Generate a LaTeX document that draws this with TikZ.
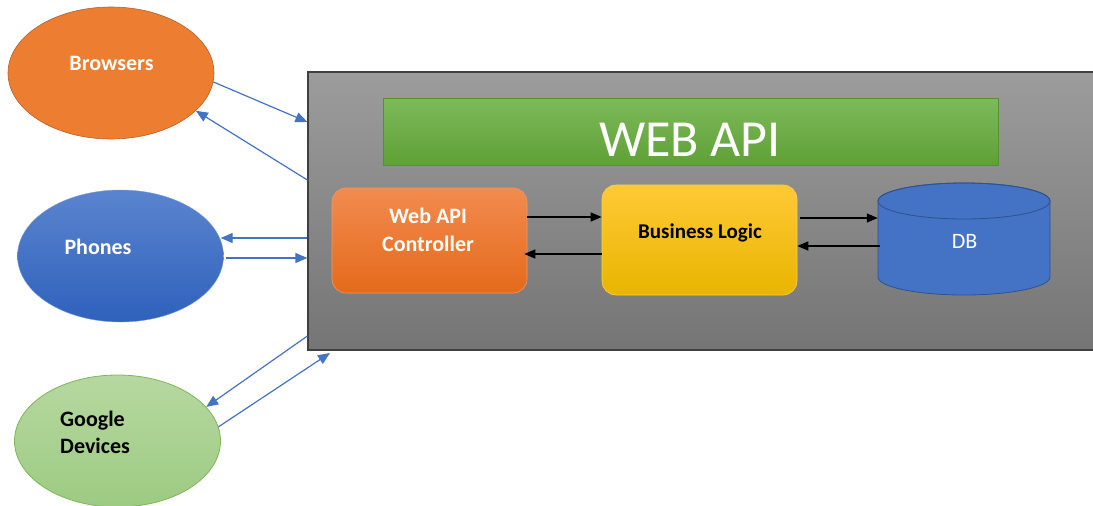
\documentclass[tikz,border=0pt]{standalone}
\usepackage{fontspec}
\setmainfont{Carlito}
\usetikzlibrary{shapes.geometric,arrows.meta}
\definecolor{boxtop}{HTML}{9C9C9C}
\definecolor{boxbot}{HTML}{757575}
\definecolor{greentop}{HTML}{7DBA5A}
\definecolor{greenbot}{HTML}{5FA036}
\definecolor{ctrltop}{HTML}{F28B50}
\definecolor{ctrlbot}{HTML}{E46A1A}
\definecolor{bltop}{HTML}{FFC936}
\definecolor{blbot}{HTML}{E8B500}
\definecolor{dbfill}{HTML}{4472C4}
\definecolor{dbline}{HTML}{2F528F}
\definecolor{brfill}{HTML}{ED7D31}
\definecolor{brline}{HTML}{B5612A}
\definecolor{phtop}{HTML}{5A84CE}
\definecolor{phbot}{HTML}{2F61BC}
\definecolor{gotop}{HTML}{B6D8A0}
\definecolor{gobot}{HTML}{9DCB82}
\definecolor{goline}{HTML}{7DB65A}
\definecolor{arrblue}{HTML}{4472C4}
\tikzset{
  client/.style={ellipse, minimum width=206, minimum height=132, inner sep=0},
  card/.style={rectangle, rounded corners=14, minimum width=195, inner sep=0},
  lbl/.style={anchor=base, inner sep=0, font=\fontsize{22}{26}\selectfont},
  blink/.style={draw=arrblue, line width=1.2, -{Triangle[length=12,width=10]}},
  klink/.style={draw=black, line width=1.3, -{Triangle[length=11,width=9]}}
}
\begin{document}
\begin{tikzpicture}[x=1pt,y=-1pt]
\useasboundingbox (0,0) rectangle (1093,506);
% main API box
\node[rectangle, minimum width=790, minimum height=278, inner sep=0,
      top color=boxtop, bottom color=boxbot, draw=black!75, line width=1.2] (api) at (703,211) {};
% WEB API bar
\node[rectangle, minimum width=615, minimum height=67, inner sep=0,
      top color=greentop, bottom color=greenbot, draw=greenbot!90!black, line width=0.6] (bar) at (690.5,131.5) {};
\node[lbl, text=white, font=\fontsize{52}{60}\selectfont] (bartxt) at (690,156) {WEB API};
% Controller
\node[card, minimum height=105, top color=ctrltop, bottom color=ctrlbot, draw=ctrltop!90!white, line width=0.6] (ctrl) at (429.5,240.5) {};
\node[lbl, text=white, font=\bfseries\fontsize{22}{26}\selectfont] (ctrltxt1) at (428,223.3) {Web API};
\node[lbl, text=white, font=\bfseries\fontsize{22}{26}\selectfont] (ctrltxt2) at (428,251.7) {Controller};
% Business logic
\node[card, minimum height=110, top color=bltop, bottom color=blbot, draw=bltop!90!white, line width=0.6] (bl) at (699.5,240) {};
\node[lbl, text=black, font=\bfseries\fontsize{21}{24}\selectfont] (bltxt) at (700,238.3) {Business Logic};
% DB cylinder
\draw[fill=dbfill, draw=dbline, line width=0.8]
  (878,201) -- (878,277) arc[start angle=180, end angle=0, x radius=86, y radius=18]
  -- (1050,201) arc[start angle=0, end angle=-180, x radius=86, y radius=18] -- cycle;
\draw[draw=dbline, line width=0.8] (964,201) ellipse[x radius=86, y radius=18];
\node[rectangle, minimum width=172, minimum height=112, inner sep=0] (db) at (964,239) {};
\node[lbl, text=white] (dbtxt) at (964.5,248.3) {DB};
% inner arrows
\draw[klink] (ctrl.east |- 0,217) -- (bl.west |- 0,217);
\draw[klink] (bl.west |- 0,254) -- ([xshift=-3]ctrl.east |- 0,254);
\draw[klink] ([xshift=3]bl.east |- 0,218) -- (db.west |- 0,218);
\draw[klink] ([xshift=2]db.west |- 0,246) -- (bl.east |- 0,246);
% clients
\node[client, fill=brfill, draw=brline, line width=0.6] (brow) at (111,73) {};
\node[lbl, text=white, font=\bfseries\fontsize{22}{26}\selectfont] (browtxt) at (111.5,70.7) {Browsers};
\node[client, top color=phtop, bottom color=phbot, draw=phtop!80!white, line width=0.4] (phon) at (120.5,256) {};
\node[lbl, text=white, font=\bfseries\fontsize{22}{26}\selectfont] (phontxt) at (98,254) {Phones};
\node[client, top color=gotop, bottom color=gobot, draw=goline, line width=0.8] (goog) at (117.5,441) {};
\node[lbl, anchor=base west, text=black, font=\bfseries\fontsize{22}{26}\selectfont] (googtxt1) at (60,426) {Google};
\node[lbl, anchor=base west, text=black, font=\bfseries\fontsize{22}{26}\selectfont] (googtxt2) at (60,453) {Devices};
% client arrows
\coordinate (gin) at (330,353);
\draw[blink] (brow.-5) -- (api.west |- 0,122);
\draw[blink] (api.west |- 0,180) -- (brow.-24);
\draw[blink] (api.west |- 0,238) -- ([xshift=-3]phon.east |- 0,238);
\draw[blink] ([xshift=2]phon.east |- 0,258) -- (api.west |- 0,258);
\draw[blink] (api.west |- 0,336) -- (goog.21);
\draw[blink] (goog.8) -- (gin);
\end{tikzpicture}
\end{document}
